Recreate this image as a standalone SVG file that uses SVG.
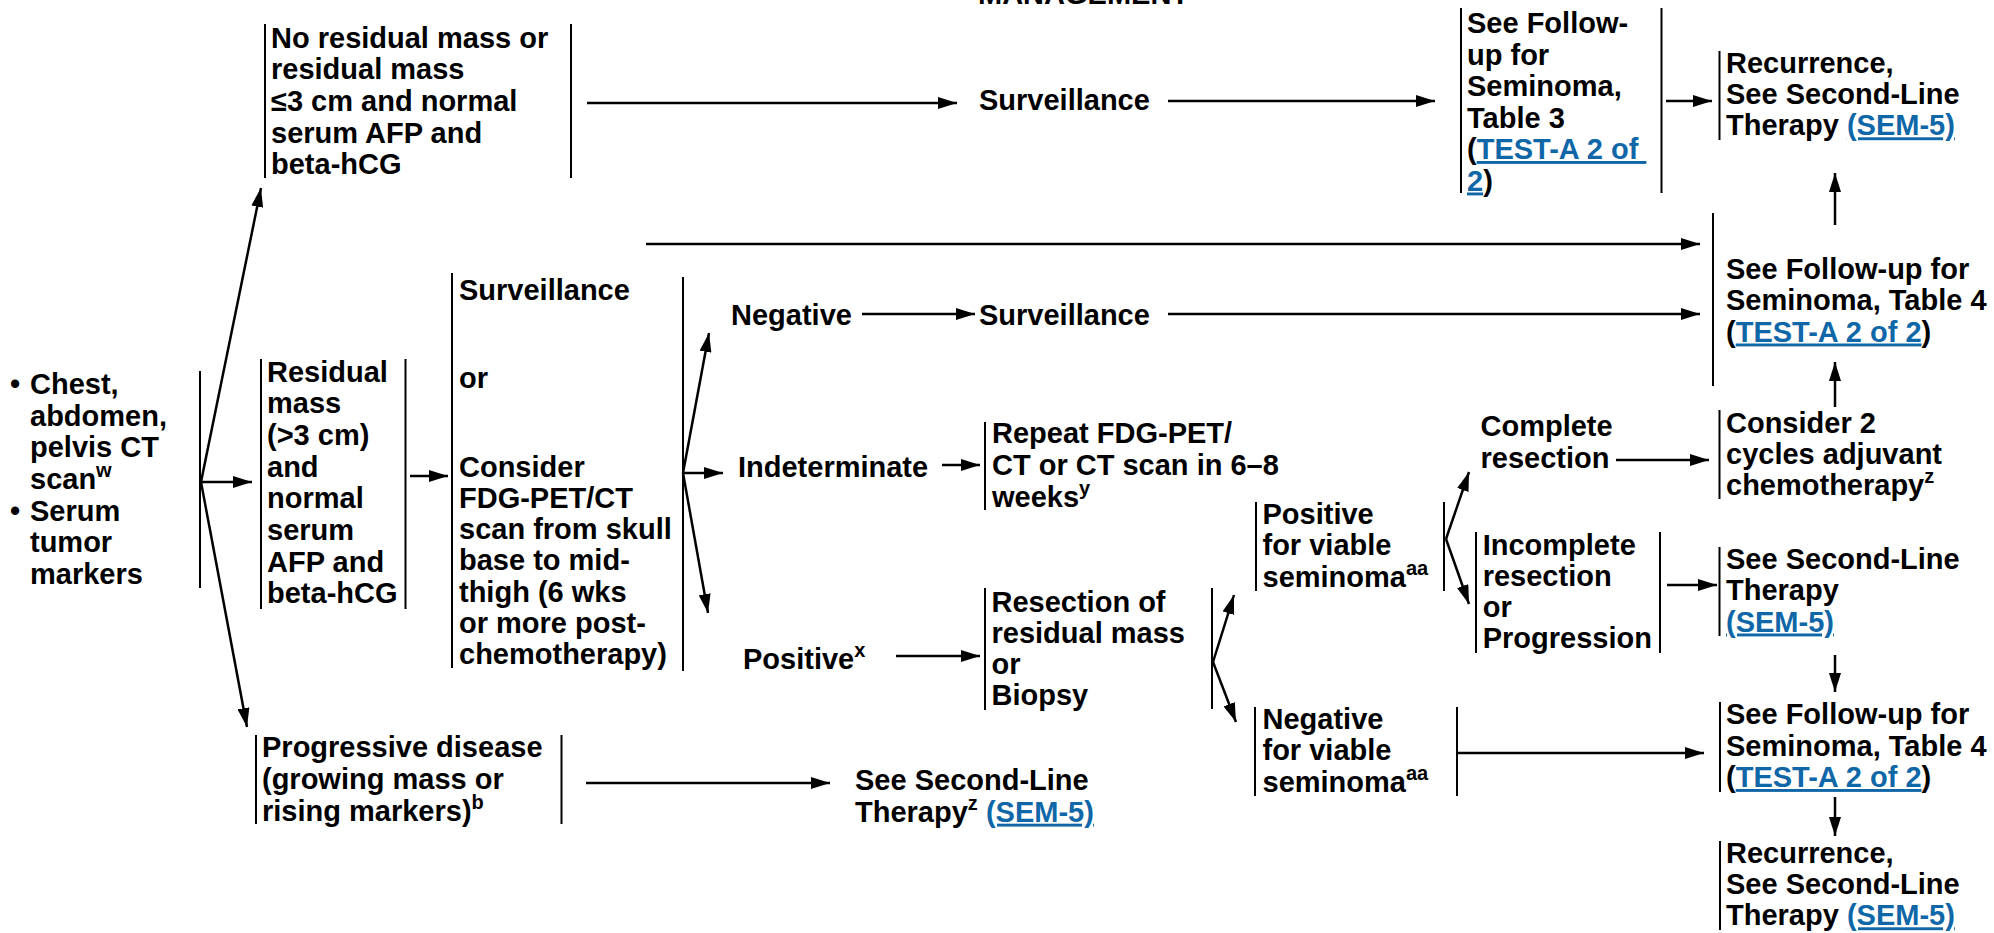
<svg xmlns="http://www.w3.org/2000/svg" width="1994" height="933" viewBox="0 0 1994 933">
<style>
.t{font-family:"Liberation Sans",Arial,Helvetica,sans-serif;font-weight:bold;font-size:29px;fill:#000}
.sup{font-size:20px}
.link{fill:#0f67a8;text-decoration:underline}
.bar{stroke:#000;stroke-width:2;fill:none}
.c{stroke:#000;stroke-width:2.5;fill:none}
.a{marker-end:url(#ah)}
</style>
<defs>
<marker id="ah" markerUnits="userSpaceOnUse" markerWidth="20" markerHeight="12" refX="19" refY="6" orient="auto">
<path d="M0,0 L19,6 L0,12 z" fill="#000"/>
</marker>
</defs>
<rect width="1994" height="933" fill="#fff"/>

<text class="t" x="978" y="4">MANAGEMENT</text>

<g id="connectors">
<line class="c a" x1="201" y1="482" x2="261" y2="188"/>
<line class="c a" x1="201" y1="482" x2="252" y2="482"/>
<line class="c a" x1="201" y1="482" x2="247" y2="727"/>
<line class="c a" x1="410" y1="476" x2="448" y2="476"/>
<line class="c a" x1="683" y1="473" x2="709" y2="333"/>
<line class="c a" x1="683" y1="473" x2="723" y2="473"/>
<line class="c a" x1="683" y1="473" x2="708" y2="613"/>
<line class="c a" x1="862" y1="314" x2="975" y2="314"/>
<line class="c a" x1="942" y1="465" x2="980" y2="465"/>
<line class="c a" x1="896" y1="656" x2="980" y2="656"/>
<line class="c a" x1="1213" y1="662" x2="1234" y2="595"/>
<line class="c a" x1="1213" y1="662" x2="1236" y2="722"/>
<line class="c a" x1="1446" y1="539" x2="1469" y2="472"/>
<line class="c a" x1="1446" y1="539" x2="1469" y2="604"/>
<line class="c a" x1="1616" y1="460" x2="1709" y2="460"/>
<line class="c a" x1="1667" y1="585" x2="1717" y2="585"/>
<line class="c a" x1="1835" y1="407" x2="1835" y2="362"/>
<line class="c a" x1="1835" y1="225" x2="1835" y2="173"/>
<line class="c a" x1="1835" y1="655" x2="1835" y2="692"/>
<line class="c a" x1="1835" y1="797" x2="1835" y2="836"/>
<line class="c a" x1="1457" y1="753" x2="1704" y2="753"/>
<line class="c a" x1="587" y1="103" x2="957" y2="103"/>
<line class="c a" x1="1168" y1="101" x2="1435" y2="101"/>
<line class="c a" x1="1666" y1="101" x2="1712" y2="101"/>
<line class="c a" x1="646" y1="244" x2="1700" y2="244"/>
<line class="c a" x1="1168" y1="314" x2="1700" y2="314"/>
<line class="c a" x1="586" y1="783" x2="830" y2="783"/>
</g>

<g id="workup">
<line class="bar" x1="200" y1="371" x2="200" y2="588"/>
<text class="t">
<tspan x="10" y="394">•</tspan><tspan x="30" y="394">Chest,</tspan>
<tspan x="30" y="425.7">abdomen,</tspan>
<tspan x="30" y="457.3">pelvis CT</tspan>
<tspan x="30" y="489">scan<tspan class="sup" dy="-12">w</tspan></tspan>
<tspan x="10" y="520.7">•</tspan><tspan x="30" y="520.7">Serum</tspan>
<tspan x="30" y="552.3">tumor</tspan>
<tspan x="30" y="584">markers</tspan>
</text>
</g>

<g id="no-residual">
<line class="bar" x1="265" y1="24" x2="265" y2="178"/>
<line class="bar" x1="571" y1="24" x2="571" y2="178"/>
<text class="t">
<tspan x="271" y="47.7">No residual mass or</tspan>
<tspan x="271" y="79.3">residual mass</tspan>
<tspan x="271" y="111">≤3 cm and normal</tspan>
<tspan x="271" y="142.7">serum AFP and</tspan>
<tspan x="271" y="174.3">beta-hCG</tspan>
</text>
</g>

<g id="surveillance-1">
<text class="t" x="979" y="110">Surveillance</text>
</g>

<g id="followup-table3">
<line class="bar" x1="1461" y1="8" x2="1461" y2="193"/>
<line class="bar" x1="1661.5" y1="8" x2="1661.5" y2="193"/>
<text class="t">
<tspan x="1467" y="33">See Follow-</tspan>
<tspan x="1467" y="64.5">up for</tspan>
<tspan x="1467" y="96">Seminoma,</tspan>
<tspan x="1467" y="127.5">Table 3</tspan>
<tspan x="1467" y="159">(<tspan class="link" xml:space="preserve">TEST-A 2 of </tspan></tspan>
<tspan x="1467" y="190.5"><tspan class="link">2</tspan>)</tspan>
</text>
</g>

<g id="recurrence-1">
<line class="bar" x1="1719.5" y1="51" x2="1719.5" y2="140"/>
<text class="t">
<tspan x="1726" y="73.3">Recurrence,</tspan>
<tspan x="1726" y="104.3">See Second-Line</tspan>
<tspan x="1726" y="135.3">Therapy <tspan class="link">(SEM-5)</tspan></tspan>
</text>
</g>

<g id="followup-table4-a">
<line class="bar" x1="1713" y1="213" x2="1713" y2="386"/>
<text class="t">
<tspan x="1726" y="278.5">See Follow-up for</tspan>
<tspan x="1726" y="310">Seminoma, Table 4</tspan>
<tspan x="1726" y="341.5">(<tspan class="link">TEST-A 2 of 2</tspan>)</tspan>
</text>
</g>

<g id="residual-mass">
<line class="bar" x1="261" y1="359" x2="261" y2="609"/>
<line class="bar" x1="405.5" y1="359" x2="405.5" y2="609"/>
<text class="t">
<tspan x="267" y="381.7">Residual</tspan>
<tspan x="267" y="413.3">mass</tspan>
<tspan x="267" y="445">(&gt;3 cm)</tspan>
<tspan x="267" y="476.7">and</tspan>
<tspan x="267" y="508.3">normal</tspan>
<tspan x="267" y="540">serum</tspan>
<tspan x="267" y="571.7">AFP and</tspan>
<tspan x="267" y="603.3">beta-hCG</tspan>
</text>
</g>

<g id="surveillance-or-pet">
<line class="bar" x1="452" y1="273" x2="452" y2="668"/>
<line class="bar" x1="683" y1="277" x2="683" y2="671"/>
<text class="t">
<tspan x="459" y="300">Surveillance</tspan>
<tspan x="459" y="388.3">or</tspan>
<tspan x="459" y="476.7">Consider</tspan>
<tspan x="459" y="507.7">FDG-PET/CT</tspan>
<tspan x="459" y="538.7">scan from skull</tspan>
<tspan x="459" y="570.3">base to mid-</tspan>
<tspan x="459" y="601.7">thigh (6 wks</tspan>
<tspan x="459" y="633">or more post-</tspan>
<tspan x="459" y="664">chemotherapy)</tspan>
</text>
</g>

<g id="negative">
<text class="t" x="731" y="325">Negative</text>
</g>

<g id="surveillance-2">
<text class="t" x="979" y="325">Surveillance</text>
</g>

<g id="indeterminate">
<text class="t" x="738" y="476.7">Indeterminate</text>
</g>

<g id="repeat-pet">
<line class="bar" x1="985" y1="422" x2="985" y2="510"/>
<text class="t">
<tspan x="992" y="443.3">Repeat FDG-PET/</tspan>
<tspan x="992" y="475">CT or CT scan in 6–8</tspan>
<tspan x="992" y="506.5">weeks<tspan class="sup" dy="-12">y</tspan></tspan>
</text>
</g>

<g id="positive">
<text class="t" x="743" y="669">Positive<tspan class="sup" dy="-12">x</tspan></text>
</g>

<g id="resection">
<line class="bar" x1="985" y1="588" x2="985" y2="710"/>
<line class="bar" x1="1212" y1="588" x2="1212" y2="709"/>
<text class="t">
<tspan x="991.5" y="612">Resection of</tspan>
<tspan x="991.5" y="643">residual mass</tspan>
<tspan x="991.5" y="674">or</tspan>
<tspan x="991.5" y="705">Biopsy</tspan>
</text>
</g>

<g id="positive-viable">
<line class="bar" x1="1256" y1="502" x2="1256" y2="591"/>
<line class="bar" x1="1444" y1="502" x2="1444" y2="591"/>
<text class="t">
<tspan x="1262.5" y="524">Positive</tspan>
<tspan x="1262.5" y="555">for viable</tspan>
<tspan x="1262.5" y="586.5">seminoma<tspan class="sup" dy="-12">aa</tspan></tspan>
</text>
</g>

<g id="negative-viable">
<line class="bar" x1="1255" y1="707" x2="1255" y2="796"/>
<line class="bar" x1="1457" y1="707" x2="1457" y2="796"/>
<text class="t">
<tspan x="1262.5" y="729">Negative</tspan>
<tspan x="1262.5" y="760">for viable</tspan>
<tspan x="1262.5" y="791.5">seminoma<tspan class="sup" dy="-12">aa</tspan></tspan>
</text>
</g>

<g id="complete-resection">
<text class="t">
<tspan x="1480.5" y="436">Complete</tspan>
<tspan x="1480.5" y="468">resection</tspan>
</text>
</g>

<g id="incomplete-resection">
<line class="bar" x1="1476" y1="532" x2="1476" y2="653"/>
<line class="bar" x1="1660" y1="532" x2="1660" y2="653"/>
<text class="t">
<tspan x="1482.7" y="555">Incomplete</tspan>
<tspan x="1482.7" y="586">resection</tspan>
<tspan x="1482.7" y="617">or</tspan>
<tspan x="1482.7" y="648">Progression</tspan>
</text>
</g>

<g id="adjuvant-chemo">
<line class="bar" x1="1719.5" y1="410" x2="1719.5" y2="499"/>
<text class="t">
<tspan x="1726" y="433">Consider 2</tspan>
<tspan x="1726" y="464">cycles adjuvant</tspan>
<tspan x="1726" y="495">chemotherapy<tspan class="sup" dy="-12">z</tspan></tspan>
</text>
</g>

<g id="second-line-1">
<line class="bar" x1="1719.5" y1="547" x2="1719.5" y2="636"/>
<text class="t">
<tspan x="1726" y="568.5">See Second-Line</tspan>
<tspan x="1726" y="600">Therapy</tspan>
<tspan x="1726" y="631.5" class="link">(SEM-5)</tspan>
</text>
</g>

<g id="followup-table4-b">
<line class="bar" x1="1720" y1="702" x2="1720" y2="792"/>
<text class="t">
<tspan x="1726" y="724">See Follow-up for</tspan>
<tspan x="1726" y="755.5">Seminoma, Table 4</tspan>
<tspan x="1726" y="787">(<tspan class="link">TEST-A 2 of 2</tspan>)</tspan>
</text>
</g>

<g id="recurrence-2">
<line class="bar" x1="1720" y1="841" x2="1720" y2="930"/>
<text class="t">
<tspan x="1726" y="862.7">Recurrence,</tspan>
<tspan x="1726" y="894">See Second-Line</tspan>
<tspan x="1726" y="925.3">Therapy <tspan class="link">(SEM-5)</tspan></tspan>
</text>
</g>

<g id="progressive-disease">
<line class="bar" x1="256" y1="735" x2="256" y2="824"/>
<line class="bar" x1="561.5" y1="735" x2="561.5" y2="824"/>
<text class="t">
<tspan x="262" y="757.3">Progressive disease</tspan>
<tspan x="262" y="789">(growing mass or</tspan>
<tspan x="262" y="820.7">rising markers)<tspan class="sup" dy="-12">b</tspan></tspan>
</text>
</g>

<g id="second-line-2">
<text class="t">
<tspan x="855" y="790">See Second-Line</tspan>
<tspan x="855" y="821.7">Therapy<tspan class="sup" dy="-12">z</tspan><tspan dy="12"> </tspan><tspan class="link">(SEM-5)</tspan></tspan>
</text>
</g>
</svg>
